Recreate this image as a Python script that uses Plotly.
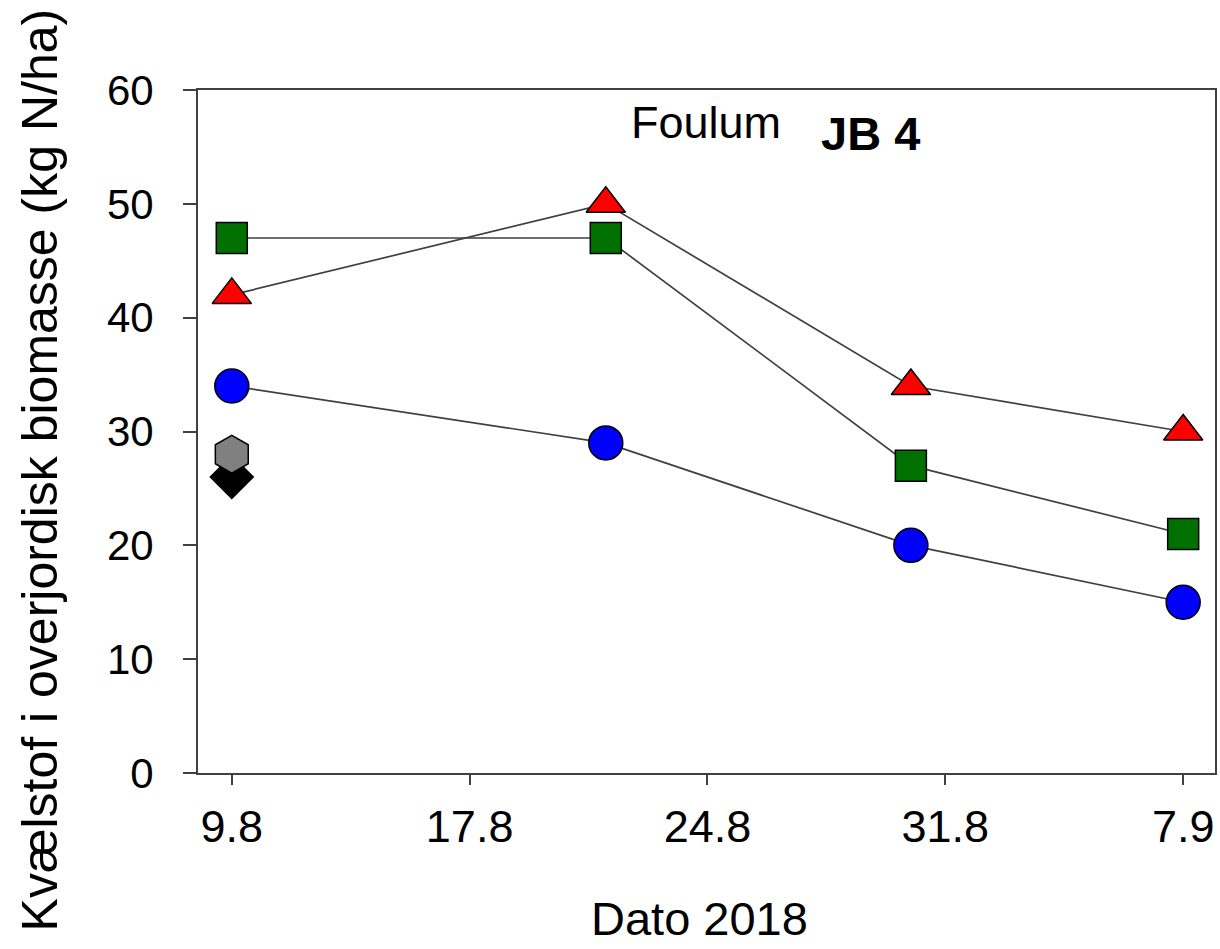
import plotly.graph_objects as go

# Days after 9 Aug 2018 (sampling dates)
sample_days = [0, 11.4, 20.7, 29]

# Nitrogen in above-ground biomass (kg N/ha)
circle_vals = [34, 29, 20, 15]      # blue circles
square_vals = [47, 47, 27, 21]      # green squares
triangle_vals = [42, 50, 34, 30]    # red triangles
hexagon_day = [0]
hexagon_vals = [28]                 # grey hexagon (single point)
diamond_day = [0]
diamond_vals = [26]                 # black diamond (single point)

# x-axis tick labels (evenly spaced in the original)
tick_pos = [0, 7.25, 14.5, 21.75, 29]
tick_labels = ["9.8", "17.8", "24.8", "31.8", "7.9"]

FONT = "Liberation Sans, Arial, sans-serif"
LINE_COL = "#404040"

fig = go.Figure()

# connecting lines first
for vals in (circle_vals, square_vals, triangle_vals):
    fig.add_trace(go.Scatter(x=sample_days, y=vals, mode="lines",
                             line=dict(color=LINE_COL, width=1.7),
                             showlegend=False, hoverinfo="skip"))

mk_line = dict(color="black", width=1.5)
fig.add_trace(go.Scatter(x=diamond_day, y=diamond_vals, mode="markers",
                         marker=dict(symbol="diamond", size=33, color="black", line=mk_line),
                         showlegend=False))
fig.add_trace(go.Scatter(x=hexagon_day, y=hexagon_vals, mode="markers",
                         marker=dict(symbol="hexagon", size=38, color="#808080", line=mk_line),
                         showlegend=False))
fig.add_trace(go.Scatter(x=sample_days, y=circle_vals, mode="markers",
                         marker=dict(symbol="circle", size=34, color="#0000FF", line=mk_line),
                         showlegend=False))
fig.add_trace(go.Scatter(x=sample_days, y=square_vals, mode="markers",
                         marker=dict(symbol="square", size=31, color="#007000", line=mk_line),
                         showlegend=False))
fig.add_trace(go.Scatter(x=sample_days, y=triangle_vals, mode="markers",
                         marker=dict(symbol="triangle-up", size=34, color="#FF0000", line=mk_line),
                         showlegend=False))

fig.update_layout(
    width=1220, height=949,
    margin=dict(l=198, r=3, t=90, b=176),
    paper_bgcolor="white", plot_bgcolor="white",
    font=dict(family=FONT, color="black"),
    xaxis=dict(range=[-1.03, 29.97], tickmode="array", tickvals=tick_pos, ticktext=tick_labels,
               showgrid=False, zeroline=False, showline=True, mirror=True,
               linecolor=LINE_COL, linewidth=2, ticks="outside", ticklen=10, tickwidth=2,
               tickcolor=LINE_COL, tickfont=dict(size=45, family=FONT, color="black"),
               ticklabelstandoff=3),
    yaxis=dict(range=[0, 60], tickmode="array", tickvals=[0, 10, 20, 30, 40, 50, 60],
               showgrid=False, zeroline=False, showline=True, mirror=True,
               linecolor=LINE_COL, linewidth=2, ticks="outside", ticklen=13, tickwidth=2,
               tickcolor=LINE_COL, tickfont=dict(size=42, family=FONT, color="black"),
               ticklabelstandoff=21),
    annotations=[
        dict(text="Kvælstof i overjordisk biomasse (kg N/ha)", xref="paper", yref="paper",
             x=-0.155, y=0.4436, xanchor="center", yanchor="middle", textangle=-90,
             showarrow=False, font=dict(size=50, family=FONT, color="black")),
        dict(text="Dato 2018", xref="paper", yref="paper",
             x=0.4936, y=-0.213, xanchor="center", yanchor="middle",
             showarrow=False, font=dict(size=47, family=FONT, color="black")),
        dict(text="Foulum", xref="paper", yref="paper",
             x=0.4995, y=0.9517, xanchor="center", yanchor="middle",
             showarrow=False, font=dict(size=45, family=FONT, color="black")),
        dict(text="<b>JB 4</b>", xref="paper", yref="paper",
             x=0.6614, y=0.9356, xanchor="center", yanchor="middle",
             showarrow=False, font=dict(size=47, family=FONT, color="black")),
    ],
)

fig.write_html("out.html", config={"displayModeBar": False},
               post_script="document.body.style.margin='0';document.body.style.overflow='hidden';")
